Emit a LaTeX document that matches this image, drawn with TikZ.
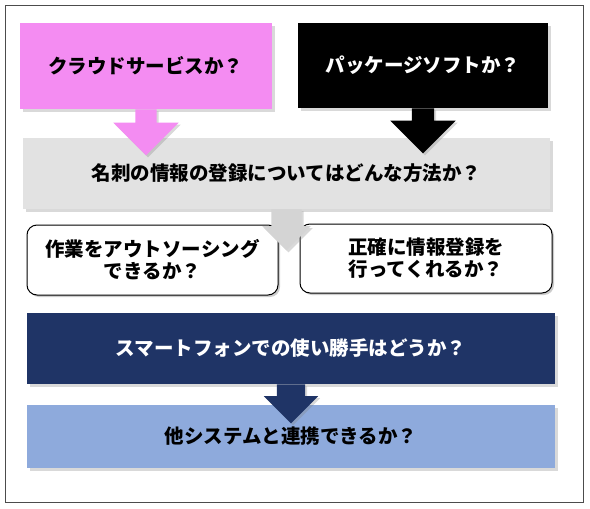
\documentclass[tikz,border=0pt]{standalone}
\usepackage{fontspec}
\newfontfamily\jp{Noto Sans CJK JP}
\usepackage{tikz}
\usetikzlibrary{shapes.arrows,shadows}
\definecolor{cloudpink}{HTML}{F48CF2}
\definecolor{cardgray}{HTML}{E2E2E2}
\definecolor{arrowgray}{HTML}{D4D4D4}
\definecolor{phonenavy}{HTML}{1F3466}
\definecolor{linkblue}{HTML}{8EAADC}

\begin{document}
\begin{tikzpicture}
    [x=1pt, y=-1pt,
    every node/.style={font=\jp\bfseries\fontsize{19.5}{22}\selectfont, inner sep=0pt},
    bar/.style={align=center, drop shadow={shadow xshift=3pt, shadow yshift=-3pt, opacity=0.3}},
    bubble/.style={draw=black, line width=1, fill=white, rounded corners=10, align=center,
      drop shadow={shadow xshift=2pt, shadow yshift=-2pt, opacity=0.4}},
    dnarrow/.style={single arrow, rotate=-90, anchor=tail, draw=none, inner xsep=0pt,
      drop shadow={shadow xshift=2pt, shadow yshift=-2pt, opacity=0.3}}]
  \useasboundingbox (0,0) rectangle (590,509);
  \draw [black!70, line width=1] (5,5) rectangle (583,502);

  \node [bar, fill=cloudpink, minimum width=252, minimum height=86] (cloud) at (146,66) {クラウドサービスか？};
  \node [bar, fill=black, text=white, minimum width=250, minimum height=85] (pkg) at (423,65.5) {パッケージソフトか？};
  \node [bar, fill=cardgray, minimum width=527, minimum height=71] (card) at (286.5,173.5) {名刺の情報の登録についてはどんな方法か？};

  \node [dnarrow, fill=cloudpink, minimum height=46, inner ysep=10.5pt, single arrow head extend=22pt] (a1) at (cloud.south) {};
  \node [dnarrow, fill=black, minimum height=45, inner ysep=11pt, single arrow head extend=21.5pt] (a2) at (pkg.south) {};

  \node [bubble, minimum width=251, minimum height=70] (outs) at (152.5,260) {作業をアウトソーシング\\できるか？};
  \node [bubble, minimum width=252, minimum height=69] (acc) at (426,258.5) {正確に情報登録を\\行ってくれるか？};
  \node [dnarrow, fill=arrowgray, minimum height=41, inner ysep=15pt, single arrow head extend=9pt] (a3) at (card.south) {};

  \node [bar, fill=phonenavy, text=white, minimum width=528, minimum height=71] (phone) at (291,348.5) {スマートフォンでの使い勝手はどうか？};
  \node [bar, fill=linkblue, minimum width=528, minimum height=63] (link) at (291,436.5) {他システムと連携できるか？};
  \node [dnarrow, fill=phonenavy, minimum height=39, inner ysep=14pt, single arrow head extend=13pt] (a4) at (phone.south) {};
\end{tikzpicture}
\end{document}
